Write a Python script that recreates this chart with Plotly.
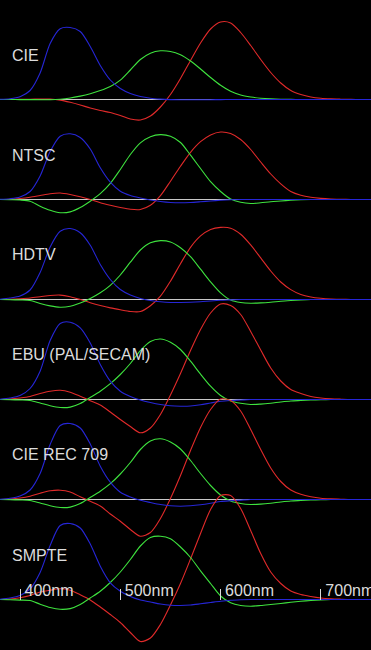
import plotly.graph_objects as go

# ---------------- data ----------------
wavelength = list(range(380, 760, 10))  # nm, 380 ... 750

panel_names = ["CIE", "NTSC", "HDTV", "EBU (PAL/SECAM)", "CIE REC 709", "SMPTE"]

cie_r = [0, 0, 0.1, 0.2, 0.5, 0.5, -0.6, -2.8, -5.5, -8.5, -11, -13, -16, -19.5, -20.5, -16.5, -7.5, 5, 21, 39,
         56.5, 70.5, 77.5, 76.5, 67, 54, 40, 27, 16.5, 9, 5, 2.5, 1.2, 0.6, 0.3, 0.1, 0, 0]
cie_g = [0, 0, -0.1, -0.1, -0.2, -0.2, 0.3, 1.5, 3.4, 5.8, 8.9, 13, 19.4, 29.5, 40, 46.3, 48.7, 48, 44.7, 38.5,
         30.5, 22, 14.2, 8.2, 4.5, 2.5, 1.3, 0.6, 0.2, 0.1, 0, 0, 0, 0, 0, 0, 0, 0]
cie_b = [0.3, 0.8, 2.8, 9, 26.5, 56, 70.8, 72, 68, 53, 34, 19.5, 11, 6, 3, 1.3, 0.4, -0.1, -0.3, -0.3,
         -0.25, -0.2, -0.1, 0, 0, 0, 0, 0, 0, 0, 0, 0, 0, 0, 0, 0, 0, 0]

ntsc_r = [0, 0.3, 1, 2.2, 4, 5.8, 6.5, 5, 2.7, 0, -3.3, -5.8, -8, -9.8, -10, -5.8, 3.9, 18.3, 33.3, 47.2,
          57.8, 64.6, 67.5, 66, 60, 50, 37.5, 25.5, 15.7, 8, 4.2, 2.2, 1.1, 0.5, 0.2, 0, 0, 0]
ntsc_g = [0, -0.2, -0.5, -1.7, -6.7, -10.8, -13.2, -12.4, -8, -1.7, 5.8, 16.1, 30, 45, 56.7, 62.8, 64.9, 63.3, 57, 44.3,
          31, 17.8, 8, 0.5, -2.8, -4, -3.3, -2.2, -1.5, -0.8, -0.3, 0, 0, 0, 0, 0, 0, 0]
ntsc_b = [0.2, 0.8, 2.5, 8, 23.5, 48, 63.3, 65.7, 62, 50.5, 31.7, 17.3, 8.3, 4, 1.5, -0.5, -2, -3, -3.3, -3,
          -2.3, -1.5, -0.8, -0.3, 0, 0, 0, 0, 0, 0, 0, 0, 0, 0, 0, 0, 0, 0]

hdtv_r = [0, 0.3, 0.8, 1.5, 2.7, 4, 4.4, 2.8, 0, -3.2, -6, -8.4, -10.3, -12, -12, -6.2, 3.3, 18.3, 35.8, 52.2,
          63.6, 70.1, 72.1, 71.3, 65.3, 54.6, 41.6, 28.5, 17.5, 9.9, 5, 2.5, 1.2, 0.5, 0.2, 0, 0, 0]
hdtv_g = [0, -0.2, -0.5, -1, -4, -6.4, -7.7, -6.8, -3.6, 1, 6.7, 14.2, 24.5, 37.3, 49.5, 56.7, 58.9, 57.5, 51.8, 42.8,
          30.3, 17.7, 6.7, -0.5, -3, -3.7, -3.4, -2.7, -1.7, -1, -0.4, 0, 0, 0, 0, 0, 0, 0]
hdtv_b = [0.3, 1.5, 3.5, 9.5, 27, 52.5, 68.3, 71, 66.7, 54.3, 35, 20, 10, 4.5, 1, -1, -2.3, -3, -3, -2.8,
          -2.3, -1.5, -0.8, -0.4, 0, 0, 0, 0, 0, 0, 0, 0, 0, 0, 0, 0, 0, 0]

ebu_r = [0, 0.5, 1.5, 3, 6, 8.3, 9.2, 7.3, 3.3, -1.2, -5.5, -12.5, -20, -27, -33.3, -28.5, -15, 4.5, 26, 49,
         70, 86.5, 95.5, 94, 85, 68, 49.5, 31.5, 18.5, 10, 6, 3, 1.5, 0.7, 0.3, 0, 0, 0]
ebu_g = [0, -0.2, -0.5, -1, -3.5, -6.3, -8, -7.6, -4, 2, 8.3, 15.8, 25, 36, 48.9, 58, 60.5, 57.3, 50, 38.3,
         25.4, 13.3, 4, -1.5, -3.8, -5, -4.6, -3.7, -2.5, -1.5, -1, -0.5, -0.2, 0, 0, 0, 0, 0]
ebu_b = [0.3, 1.5, 4, 11, 28.3, 59, 76, 77.3, 71.7, 56.6, 35, 18.3, 8.3, 3, -0.5, -3, -5, -6.3, -6.7, -6.5,
         -5.3, -3.5, -1.8, -1, -0.5, 0, 0, 0, 0, 0, 0, 0, 0, 0, 0, 0, 0, 0]

rec_r = [0, 0.5, 1.5, 3.3, 6.3, 8.7, 9.3, 7.5, 2.7, -1.8, -6.5, -14.5, -21.7, -30, -36.7, -33, -19, 1, 24, 49,
         72, 90, 100.5, 99, 88.5, 70, 50, 31.5, 18, 9.5, 5.2, 2.7, 1.2, 0.6, 0.3, 0, 0, 0]
rec_g = [0, -0.2, -0.5, -1, -3.5, -6.3, -8, -7.6, -4, 2, 8.3, 15.8, 25.5, 37, 50, 58.5, 60.7, 57.5, 50.5, 39,
         26, 14, 4.5, -1.5, -4, -5, -4.6, -3.7, -2.5, -1.5, -1, -0.5, -0.2, 0, 0, 0, 0, 0]
rec_b = [0.3, 1.2, 3.5, 9.5, 26, 55, 74, 76, 71.5, 55.5, 33.3, 17.3, 7.3, 2.5, -0.8, -3, -5, -6.3, -6.7, -6.3,
         -5.3, -3.8, -2, -1.2, -0.6, 0, 0, 0, 0, 0, 0, 0, 0, 0, 0, 0, 0, 0]

smpte_r = [0, 0.5, 1.8, 4, 7.5, 9.3, 10.7, 9.3, 4.7, -0.5, -7.5, -15, -23, -33, -42, -38.5, -25, -5.5, 16, 40.5,
           66, 90, 104, 104, 91, 69, 46, 27.5, 16, 8.5, 5, 3, 1.5, 0.7, 0.3, 0, 0, 0]
smpte_g = [0, -0.2, -0.6, -1, -4.7, -8, -9.8, -9.1, -5, 1.5, 8.3, 17, 27.5, 40, 53.5, 62, 63.3, 60.7, 52.5, 42,
           28.7, 16, 3.5, -3.3, -6, -6.7, -6, -5, -4, -2.8, -1.8, -1, -0.4, 0, 0, 0, 0, 0]
smpte_b = [0.3, 1.5, 4, 10.5, 27, 54, 74, 76, 71.5, 55.5, 33.3, 16.7, 8.3, 3, -0.5, -2.5, -4.5, -5.7, -6, -5.5,
           -4.3, -3, -1.7, -0.8, -0.3, 0, 0, 0, 0, 0, 0, 0, 0, 0, 0, 0, 0, 0]

red_series = [cie_r, ntsc_r, hdtv_r, ebu_r, rec_r, smpte_r]
green_series = [cie_g, ntsc_g, hdtv_g, ebu_g, rec_g, smpte_g]
blue_series = [cie_b, ntsc_b, hdtv_b, ebu_b, rec_b, smpte_b]

tick_values = [400, 500, 600, 700]
tick_labels = ["400nm", "500nm", "600nm", "700nm"]

# ---------------- styling / layout ----------------
VIEW_W, HEIGHT = 371, 650          # visible window
FIG_W = 400                        # drawing is a bit wider; the right edge is clipped like the original
PITCH = 100                        # px between panel baselines
NM_PER_PX = (750 - 380) / VIEW_W
RED, GREEN, BLUE = "#e02a2a", "#3ee23e", "#2626d6"
BASE = "#c8c8c8"
TEXT = "#dcdcdc"
FONT = "Liberation Sans"

fig = go.Figure()
layout_axes = {}
annotations = []
for i, name in enumerate(panel_names):
    yref = "y" if i == 0 else f"y{i + 1}"
    for vals, col in ((red_series[i], RED), (green_series[i], GREEN), (blue_series[i], BLUE)):
        fig.add_trace(go.Scatter(
            x=wavelength, y=vals, mode="lines", yaxis=yref,
            line=dict(color=col, width=1.1, shape="spline", smoothing=0.8),
            hoverinfo="skip", showlegend=False))
    base_px = PITCH * (i + 1)
    ax = dict(domain=[0, 1], range=[base_px - HEIGHT - 0.5, base_px - 0.5],
              showgrid=False, showticklabels=False, ticks="", showline=False,
              zeroline=True, zerolinecolor=BASE, zerolinewidth=1, fixedrange=True)
    if i > 0:
        ax["overlaying"] = "y"
    layout_axes["yaxis" if i == 0 else f"yaxis{i + 1}"] = ax
    annotations.append(dict(text=name, xref="paper", yref="paper",
                            x=10 / FIG_W, y=1 - (base_px - 45) / HEIGHT,
                            xanchor="left", yanchor="middle", showarrow=False,
                            font=dict(family=FONT, size=16, color=TEXT)))

last_base = PITCH * len(panel_names)
fig.update_layout(
    width=FIG_W, height=HEIGHT,
    margin=dict(l=0, r=0, t=0, b=0),
    paper_bgcolor="black", plot_bgcolor="black",
    showlegend=False,
    annotations=annotations,
    xaxis=dict(range=[380, 380 + FIG_W * NM_PER_PX], anchor="free",
               position=1 - (last_base - 0.5) / HEIGHT,
               tickvals=tick_values, ticktext=tick_labels,
               ticks="inside", ticklen=11, tickwidth=1, tickcolor=TEXT,
               ticklabelposition="inside right", ticklabelstandoff=-6, ticklabelshift=4,
               tickfont=dict(family=FONT, size=16, color=TEXT),
               showgrid=False, zeroline=False, showline=False, fixedrange=True),
    **layout_axes,
)

fig.write_html(
    "out.html",
    config={"displayModeBar": False},
    post_script=("document.body.style.margin='0';document.body.style.background='black';"
                 "document.body.style.overflow='hidden';"
                 "document.documentElement.style.overflow='hidden';"),
)
